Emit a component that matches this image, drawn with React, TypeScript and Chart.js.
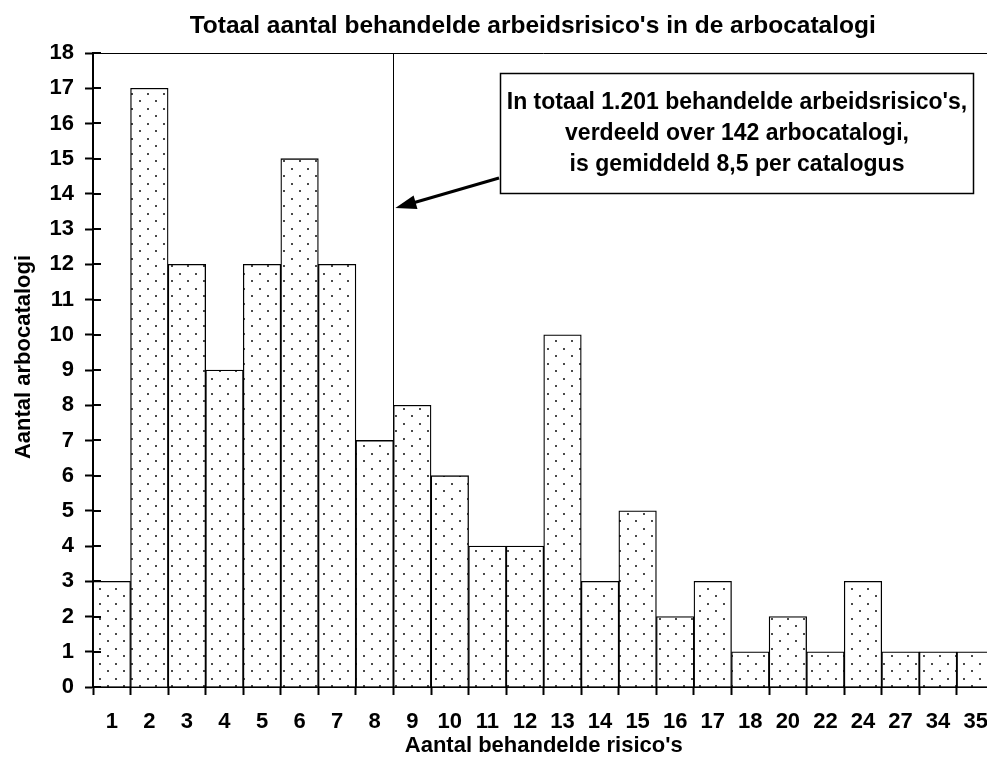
import { useEffect, useRef } from 'react';
import { Chart, registerables } from 'chart.js';

Chart.register(...registerables);

const categories = ['1', '2', '3', '4', '5', '6', '7', '8', '9', '10', '11', '12', '13', '14', '15', '16', '17', '18', '20', '22', '24', '27', '34', '35'];
const counts = [3, 17, 12, 9, 12, 15, 12, 7, 8, 6, 4, 4, 10, 3, 5, 2, 3, 1, 2, 1, 3, 1, 1, 1];
const yMin = 0;
const yMax = 18;
const yStep = 1;
const chartTitle = "Totaal aantal behandelde arbeidsrisico's in de arbocatalogi";
const xTitle = "Aantal behandelde risico's";
const yTitle = 'Aantal arbocatalogi';
const noteLines = [
  "In totaal 1.201 behandelde arbeidsrisico's,",
  'verdeeld over 142 arbocatalogi,',
  'is gemiddeld 8,5 per catalogus',
];
// mean marker: between category '8' and '9' (index 7.5 on the category scale)
const meanPosition = 7.5;

const FONT = '"Liberation Sans", Arial, Helvetica, sans-serif';

function makePattern(ctx: CanvasRenderingContext2D) {
  const c = document.createElement('canvas');
  c.width = 16;
  c.height = 15;
  const g = c.getContext('2d')!;
  g.fillStyle = '#ffffff';
  g.fillRect(0, 0, 16, 15);
  g.fillStyle = '#4a4a4a';
  g.fillRect(3, 3, 2, 2);
  g.fillRect(11, 10, 2, 2);
  return ctx.createPattern(c, 'repeat');
}

const overlay = {
  id: 'overlay',
  afterDraw(chart: any) {
    const { ctx, chartArea: a, scales } = chart;
    const x = scales.x;
    const y = scales.y;
    ctx.save();
    ctx.strokeStyle = '#000';
    ctx.fillStyle = '#000';

    // top frame line
    ctx.lineWidth = 1;
    ctx.beginPath();
    ctx.moveTo(a.left, Math.round(a.top) + 0.5);
    ctx.lineTo(a.right, Math.round(a.top) + 0.5);
    ctx.stroke();

    // inward tick stubs on y axis
    ctx.lineWidth = 2;
    y.ticks.forEach((_t: any, i: number) => {
      const py = Math.round(y.getPixelForTick(i));
      ctx.beginPath();
      ctx.moveTo(a.left, py);
      ctx.lineTo(a.left + 8, py);
      ctx.stroke();
    });

    // mean line
    const mx = Math.round(x.getPixelForValue(meanPosition)) + 0.5;
    ctx.lineWidth = 1;
    ctx.beginPath();
    ctx.moveTo(mx, a.top);
    ctx.lineTo(mx, a.bottom);
    ctx.stroke();

    // chart title
    ctx.font = `bold 24.5px ${FONT}`;
    ctx.textAlign = 'center';
    ctx.textBaseline = 'middle';
    ctx.fillText(chartTitle, (a.left + a.right) / 2 - 11, 26);

    // y axis title
    ctx.save();
    ctx.translate(24, (a.top + a.bottom) / 2 - 13);
    ctx.rotate(-Math.PI / 2);
    ctx.font = `bold 22px ${FONT}`;
    ctx.fillText(yTitle, 0, 0);
    ctx.restore();

    // annotation box
    const bl = Math.round(x.getPixelForValue(10.33)) + 0.5;
    const br = Math.round(x.getPixelForValue(22.92)) + 0.5;
    const bt = Math.round(y.getPixelForValue(17.43)) + 0.5;
    const bb = Math.round(y.getPixelForValue(14.03)) + 0.5;
    ctx.fillStyle = '#fff';
    ctx.fillRect(bl, bt, br - bl, bb - bt);
    ctx.lineWidth = 1.5;
    ctx.strokeRect(bl, bt, br - bl, bb - bt);
    ctx.fillStyle = '#000';
    ctx.font = `bold 23px ${FONT}`;
    const cx = (bl + br) / 2;
    const cy = (bt + bb) / 2;
    noteLines.forEach((line, i) => {
      ctx.fillText(line, cx, cy + (i - 1) * 31);
    });

    // arrow
    const ax0 = x.getPixelForValue(10.31);
    const ay0 = y.getPixelForValue(14.45);
    const ax1 = x.getPixelForValue(7.55);
    const ay1 = y.getPixelForValue(13.6);
    const ang = Math.atan2(ay1 - ay0, ax1 - ax0);
    const head = 21;
    const hw = 7;
    ctx.lineWidth = 3;
    ctx.beginPath();
    ctx.moveTo(ax0, ay0);
    ctx.lineTo(ax1 - Math.cos(ang) * (head - 2), ay1 - Math.sin(ang) * (head - 2));
    ctx.stroke();
    ctx.beginPath();
    ctx.moveTo(ax1, ay1);
    ctx.lineTo(ax1 - Math.cos(ang) * head - Math.sin(ang) * hw, ay1 - Math.sin(ang) * head + Math.cos(ang) * hw);
    ctx.lineTo(ax1 - Math.cos(ang) * head + Math.sin(ang) * hw, ay1 - Math.sin(ang) * head - Math.cos(ang) * hw);
    ctx.closePath();
    ctx.fill();

    ctx.restore();
  },
};

export default function App() {
  const ref = useRef<HTMLCanvasElement | null>(null);

  useEffect(() => {
    const canvas = ref.current!;
    const ctx = canvas.getContext('2d')!;
    const pattern = makePattern(ctx);
    const chart = new Chart(canvas, {
      type: 'bar',
      data: {
        labels: categories,
        datasets: [
          {
            data: counts,
            backgroundColor: pattern as any,
            borderColor: '#000',
            borderWidth: 1.3,
            categoryPercentage: 1,
            barPercentage: 1,
          },
        ],
      },
      options: {
        responsive: false,
        animation: false,
        devicePixelRatio: 1,
        layout: { padding: { top: 53, right: 5, left: 0, bottom: 0 } },
        plugins: {
          legend: { display: false },
          tooltip: { enabled: false },
          title: { display: false },
        },
        scales: {
          x: {
            grid: {
              display: true,
              drawOnChartArea: false,
              drawTicks: true,
              tickLength: 8,
              tickWidth: 2,
              tickColor: '#000',
              offset: true,
            },
            border: { display: true, color: '#000', width: 2 },
            ticks: {
              color: '#000',
              font: { family: FONT, size: 22, weight: 'bold' },
              padding: 14,
              maxRotation: 0,
              autoSkip: false,
            },
            title: {
              display: true,
              text: xTitle,
              color: '#000',
              font: { family: FONT, size: 22, weight: 'bold' },
              padding: { top: 0, bottom: 3 },
            },
            afterFit: (s: any) => {
              s.height = 75;
            },
          },
          y: {
            min: yMin,
            max: yMax,
            grid: {
              display: true,
              drawOnChartArea: false,
              drawTicks: true,
              tickLength: 8,
              tickWidth: 2,
              tickColor: '#000',
            },
            border: { display: true, color: '#000', width: 2 },
            ticks: {
              stepSize: yStep,
              color: '#000',
              font: { family: FONT, size: 22, weight: 'bold' },
              padding: 11,
            },
            title: { display: false },
            afterFit: (s: any) => {
              s.width = 93;
            },
          },
        },
      },
      plugins: [overlay],
    });
    return () => chart.destroy();
  }, []);

  return (
    <div
      style={{
        position: 'absolute',
        left: 0,
        top: 0,
        width: 987,
        height: 762,
        overflow: 'hidden',
        background: '#fff',
      }}
    >
      <canvas ref={ref} width={1002} height={762} style={{ width: 1002, height: 762, display: 'block' }} />
    </div>
  );
}
